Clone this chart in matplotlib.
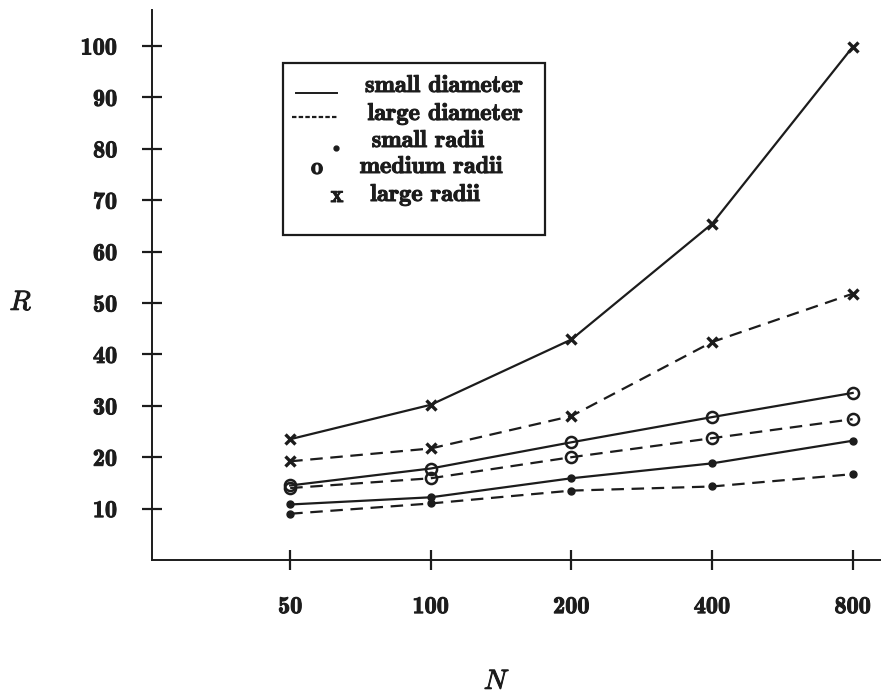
import matplotlib
matplotlib.use("Agg")
import matplotlib.pyplot as plt
import matplotlib.patheffects as pe
from matplotlib.lines import Line2D
from matplotlib.patches import Rectangle

# N values (log-2 spaced on the axis)
n_values = [50, 100, 200, 400, 800]

# small diameter (solid lines)
small_diam_small_radii = [10.8, 12.2, 15.9, 18.8, 23.2]
small_diam_medium_radii = [14.5, 17.8, 22.9, 27.8, 32.5]
small_diam_large_radii = [23.5, 30.2, 42.9, 65.4, 99.8]

# large diameter (dashed lines)
large_diam_small_radii = [9.0, 11.0, 13.5, 14.3, 16.7]
large_diam_medium_radii = [14.0, 15.9, 20.0, 23.7, 27.4]
large_diam_large_radii = [19.2, 21.7, 28.0, 42.4, 51.8]

y_ticks = [10, 20, 30, 40, 50, 60, 70, 80, 90, 100]

INK = "#1c1c1c"
W, H = 881, 699
FS = 17.5
# thicken the thin cmb10 strokes a little
heavy = [pe.withStroke(linewidth=0.7, foreground=INK)]

plt.rcParams["lines.scale_dashes"] = False
plt.rcParams["mathtext.fontset"] = "cm"

fig = plt.figure(figsize=(W / 100, H / 100), dpi=100)
ax = fig.add_axes([152 / W, 1 - 560 / H, (W - 152) / W, (560 - 10) / H])


def fig_xy(px, py):
    return px / W, 1 - py / H


solid = dict(color=INK, lw=1.6, linestyle="-")
dashed = dict(color=INK, lw=1.6, linestyle=(0, (9, 5.5)))
dot_m = dict(marker="o", markersize=5, markerfacecolor=INK, markeredgecolor=INK)
circ_m = dict(marker="o", markersize=8, markerfacecolor="none",
              markeredgecolor=INK, markeredgewidth=1.8)
x_m = dict(marker="x", markersize=7.5, markeredgecolor=INK, markeredgewidth=2.4)

ax.plot(n_values, small_diam_small_radii, **solid, **dot_m)
ax.plot(n_values, small_diam_medium_radii, **solid, **circ_m)
ax.plot(n_values, small_diam_large_radii, **solid, **x_m)
ax.plot(n_values, large_diam_small_radii, **dashed, **dot_m)
ax.plot(n_values, large_diam_medium_radii, **dashed, **circ_m)
ax.plot(n_values, large_diam_large_radii, **dashed, **x_m)

ax.set_xscale("log", base=2)
ax.set_xlim(25.3, 920)
ax.set_ylim(0, 107)
ax.set_xticks(n_values)
ax.set_xticklabels([str(v) for v in n_values])
ax.minorticks_off()
ax.set_yticks(y_ticks)
ax.set_yticklabels([str(v) for v in y_ticks])

for side in ["top", "right"]:
    ax.spines[side].set_visible(False)
for side in ["left", "bottom"]:
    ax.spines[side].set_color(INK)
    ax.spines[side].set_linewidth(1.4)

ax.tick_params(axis="both", direction="inout", length=14, width=1.6,
               color=INK, labelcolor=INK, labelsize=FS)
ax.tick_params(axis="y", pad=18)
ax.tick_params(axis="x", pad=19)
for lab in ax.get_xticklabels() + ax.get_yticklabels():
    lab.set_family("cmb10")
    lab.set_path_effects(heavy)

# axis names
fig.text(*fig_xy(21, 302), r"$R$", fontsize=20, color=INK, ha="center",
         va="center", path_effects=heavy)
fig.text(*fig_xy(497, 681), r"$N$", fontsize=20, color=INK, ha="center",
         va="center", path_effects=heavy)

# legend box drawn by hand so entries sit centred like the typeset original
x0, y0 = fig_xy(283, 235)
x1, y1 = fig_xy(545, 63)
fig.add_artist(Rectangle((x0, y0), x1 - x0, y1 - y0, transform=fig.transFigure,
                         fill=False, edgecolor=INK, linewidth=1.6))

txt = dict(fontsize=FS, color=INK, family="cmb10", va="center", ha="center",
           path_effects=heavy)
fig.text(*fig_xy(444, 86), "small diameter", **txt)
fig.text(*fig_xy(445, 114), "large diameter", **txt)
fig.text(*fig_xy(428, 141), "small radii", **txt)
fig.text(*fig_xy(431, 167), "medium radii", **txt)
fig.text(*fig_xy(425, 195), "large radii", **txt)

lx0, ly = fig_xy(296, 93)
lx1, _ = fig_xy(337, 93)
fig.add_artist(Line2D([lx0, lx1], [ly, ly], transform=fig.transFigure,
                      color=INK, lw=1.4))
lx0, ly = fig_xy(292, 117)
lx1, _ = fig_xy(338, 117)
fig.add_artist(Line2D([lx0, lx1], [ly, ly], transform=fig.transFigure,
                      color=INK, lw=1.6, linestyle=(0, (3.2, 1.6))))
fig.add_artist(Line2D(*zip(fig_xy(336, 148)), transform=fig.transFigure,
                      marker="o", markersize=3.5, color=INK, linestyle="none"))
fig.text(*fig_xy(317, 168), "o", **txt)
fig.text(*fig_xy(337, 196), "x", **txt)

fig.savefig("out.png", dpi=100, facecolor="white")
